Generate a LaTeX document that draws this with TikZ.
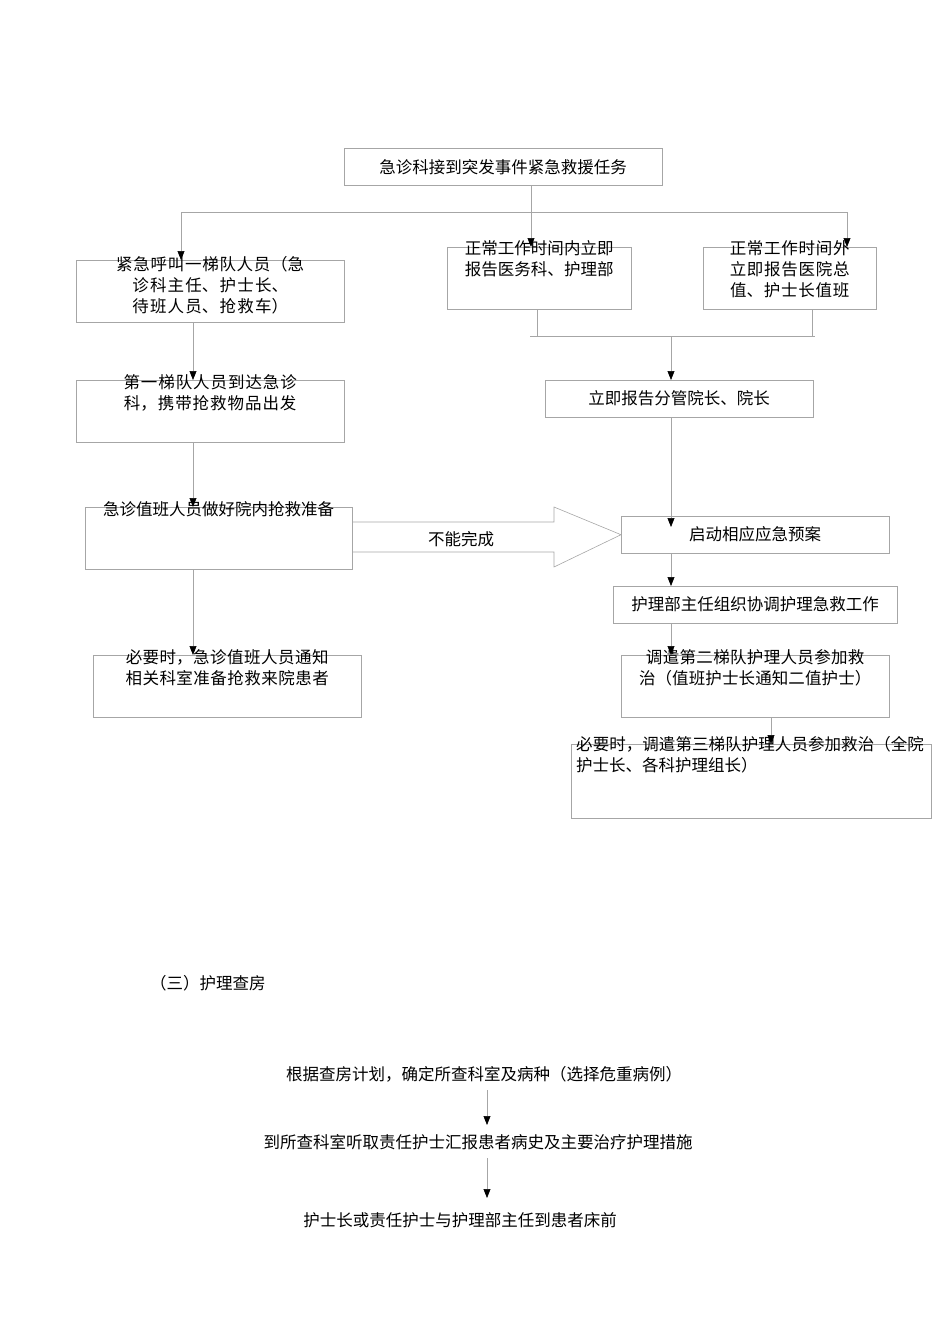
\documentclass[tikz,border=0pt]{standalone}
\usepackage{fontspec}
\setmainfont{Noto Sans CJK SC}
\XeTeXlinebreaklocale "zh"
\XeTeXlinebreakskip=0pt plus 1pt
\usetikzlibrary{arrows.meta,positioning}
\tikzset{
  box/.style={draw=gray!70,anchor=north west,inner sep=2pt,align=center,font=\fontsize{16.5}{21}\selectfont},
  txt/.style={inner sep=0pt,align=center,font=\fontsize{16.5}{21}\selectfont},
  link/.style={draw=gray!70,line width=0.6pt},
  arr/.style={link,-{Triangle[black,length=9pt,width=7pt]}}
}
\begin{document}
\begin{tikzpicture}[x=1pt,y=-1pt]
        \useasboundingbox (0,0) rectangle (950,1344);
        % first chart
        \node[box,minimum width=318,minimum height=37] (task) at (344,148) {急诊科接到突发事件紧急救援任务};
        \node[box,minimum width=268,minimum height=62] (call) at (76,260) {};
        \node[txt,text width=235,below=4 of call.north] (callt) {紧急呼叫一梯队人员（急诊科主任、护士长、待班人员、抢救车）};
        \node[box,minimum width=184,minimum height=62] (inner) at (447,247) {};
        \node[txt,text width=152,below=7 of inner.north] (innert) {正常工作时间内立即报告医务科、护理部};
        \node[box,minimum width=173,minimum height=62] (outer) at (703,247) {};
        \node[txt,text width=168,below=7 of outer.north] (outert) {正常工作时间外立即报告医院总值、护士长值班};
        \node[box,minimum width=268,minimum height=62] (team) at (76,380) {};
        \node[txt,text width=235,below=6 of team.north] (teamt) {第一梯队人员到达急诊科，携带抢救物品出发};
        \node[box,minimum width=268,minimum height=37] (dean) at (545,380) {立即报告分管院长、院长};
        \node[box,minimum width=267,minimum height=62] (ready) at (85,507) {};
        \node[txt,below=6 of ready.north] (readyt) {急诊值班人员做好院内抢救准备};
        \node[box,minimum width=268,minimum height=37] (plan) at (621,516) {启动相应应急预案};
        \node[box,minimum width=284,minimum height=37] (nurse) at (613,586) {护理部主任组织协调护理急救工作};
        \node[box,minimum width=268,minimum height=62] (notify) at (93,655) {};
        \node[txt,text width=235,below=6 of notify.north] (notifyt) {必要时，急诊值班人员通知相关科室准备抢救来院患者};
        \node[box,minimum width=268,minimum height=62] (second) at (621,655) {};
        \node[txt,text width=240,below=6 of second.north] (secondt) {调遣第二梯队护理人员参加救治（值班护士长通知二值护士）};
        \node[box,minimum width=360,minimum height=74] (third) at (571,744) {};
        \node[txt,text width=350,align=left,below=8 of third.north] (thirdt) {必要时，调遣第三梯队护理人员参加救治（全院护士长、各科护理组长）};
        % branches
        \coordinate (fork) at (531,212);
        \coordinate (join) at (671,336);
        \draw[link] (task.south -| fork) -- (fork);
        \draw[arr] (fork) -| (call.north -| 181,0);
        \draw[arr] (fork) -- (inner.north -| fork);
        \draw[arr] (fork) -| (outer.north -| 847,0);
        \draw[link] (inner.south -| 537,0) -- (537,336);
        \draw[link] (outer.south -| 812,0) -- (812,336);
        \draw[link] (530,336) -- (815,336);
        \draw[arr] (join) -- (dean.north -| join);
        \draw[arr] (call.south -| 193,0) -- (team.north -| 193,0);
        \draw[arr] (team.south -| 193,0) -- (ready.north -| 193,0);
        \draw[arr] (ready.south -| 193,0) -- (notify.north -| 193,0);
        \draw[arr] (dean.south -| join) -- (671,527);
        \draw[arr] (plan.south -| join) -- (nurse.north -| join);
        \draw[arr] (nurse.south -| join) -- (second.north -| join);
        \draw[arr] (second.south -| 771,0) -- (third.north -| 771,0);
        % wide arrow
        \draw[link] (ready.east |- 0,522) -- (554,522) -- (554,507) -- (plan.west) -- (554,567) -- (554,552) -- (ready.east |- 0,552);
        \node[txt] (fail) at (461,539) {不能完成};
        % second chart
        \node[txt,anchor=west] (head) at (150,983) {（三）护理查房};
        \node[txt] (step1) at (484,1074) {根据查房计划，确定所查科室及病种（选择危重病例）};
        \node[txt] (step2) at (478,1142) {到所查科室听取责任护士汇报患者病史及主要治疗护理措施};
        \node[txt] (step3) at (460,1220) {护士长或责任护士与护理部主任到患者床前};
        \draw[arr] (487,1090) -- (487,1125);
        \draw[arr] (487,1158) -- (487,1198);
\end{tikzpicture}
\end{document}
